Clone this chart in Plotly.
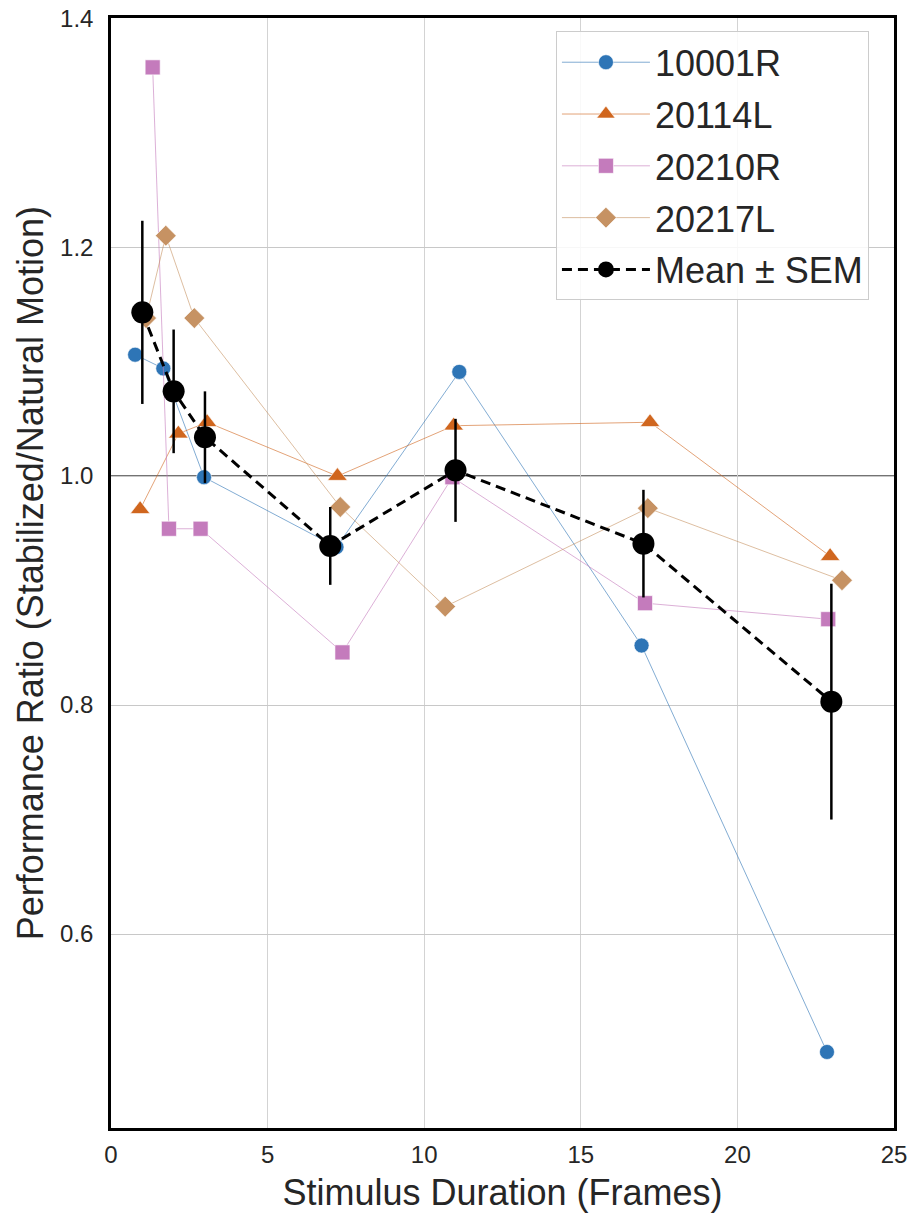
import plotly.graph_objects as go

# ---- data ----
mean_x = [1, 2, 3, 7, 11, 17, 23]
mean_y = [1.143, 1.074, 1.034, 0.939, 1.005, 0.941, 0.803]
mean_sem = [0.080, 0.054, 0.040, 0.034, 0.045, 0.047, 0.103]

s10001R_x = [0.77, 1.67, 2.97, 7.20, 11.12, 16.94, 22.86]
s10001R_y = [1.106, 1.094, 0.999, 0.938, 1.091, 0.852, 0.497]

s20114L_x = [0.93, 2.15, 3.07, 7.23, 10.94, 17.21, 22.96]
s20114L_y = [0.971, 1.037, 1.047, 1.000, 1.044, 1.047, 0.930]

s20210R_x = [1.33, 1.85, 2.86, 7.39, 10.90, 17.05, 22.90]
s20210R_y = [1.357, 0.954, 0.954, 0.846, 0.999, 0.889, 0.875]

s20217L_x = [1.12, 1.75, 2.66, 7.32, 10.67, 17.14, 23.34]
s20217L_y = [1.138, 1.210, 1.138, 0.973, 0.886, 0.972, 0.909]

names = ["10001R", "20114L", "20210R", "20217L"]
x_ticks = [0, 5, 10, 15, 20, 25]
y_ticks = [0.6, 0.8, 1.0, 1.2, 1.4]

FONT = "Arial, Liberation Sans, sans-serif"

series = [
    (names[0], s10001R_x, s10001R_y, "circle", 15, "#2E75B6", "rgba(46,117,182,0.6)"),
    (names[1], s20114L_x, s20114L_y, "triangle-up", 17, "#D0661E", "rgba(208,102,30,0.6)"),
    (names[2], s20210R_x, s20210R_y, "square", 15, "#C47BBC", "rgba(196,123,188,0.6)"),
    (names[3], s20217L_x, s20217L_y, "diamond", 16, "#C69263", "rgba(198,146,99,0.6)"),
]

fig = go.Figure()
for name, xs, ys, sym, size, col, lcol in series:
    fig.add_trace(go.Scatter(
        x=xs, y=ys, name=name, mode="lines+markers", legendgroup=name,
        line=dict(color=lcol, width=1),
        marker=dict(symbol=sym, size=size, color=col,
                    line=dict(color="white", width=0.6)),
    ))

fig.add_trace(go.Scatter(
    x=mean_x, y=mean_y, name="Mean ± SEM", mode="lines+markers", legendgroup="mean",
    line=dict(color="black", width=3, dash="10px,6px"),
    marker=dict(symbol="circle", size=22, color="black"),
    error_y=dict(type="data", array=mean_sem, visible=True,
                 color="black", thickness=2.5, width=0),
))

fig.add_shape(type="line", xref="paper", yref="y", x0=0, x1=1, y0=1.0, y1=1.0,
              line=dict(color="#444444", width=1.5), layer="between")

fig.add_annotation(
    text="Performance Ratio (Stabilized/Natural Motion)",
    xref="paper", yref="paper", x=-0.103, y=0.5,
    textangle=-90, showarrow=False,
    font=dict(family=FONT, size=36, color="#262626"),
    xanchor="center", yanchor="middle",
)

fig.update_layout(
    width=912, height=1215,
    margin=dict(l=111, r=18, t=18, b=87, autoexpand=False),
    paper_bgcolor="white", plot_bgcolor="white",
    font=dict(family=FONT, color="#262626"),
    showlegend=True,
    legend=dict(
        x=0.968, y=0.988, xanchor="right", yanchor="top",
        bgcolor="rgba(255,255,255,0.85)", bordercolor="#cccccc", borderwidth=1,
        font=dict(family=FONT, size=36, color="#262626"),
        itemwidth=88, tracegroupgap=2,
    ),
)

fig.update_xaxes(
    range=[0, 25], tickvals=x_ticks, ticktext=[str(v) for v in x_ticks],
    showgrid=True, gridcolor="#d3d3d3", gridwidth=1,
    showline=True, mirror=True, linecolor="black", linewidth=2.5,
    zeroline=False, ticks="", ticklabelstandoff=3, automargin=False,
    ticklabeloverflow="allow",
    tickfont=dict(family=FONT, size=24, color="#262626"),
    title=dict(text="Stimulus Duration (Frames)", standoff=14,
               font=dict(family=FONT, size=36, color="#262626")),
)
fig.update_yaxes(
    range=[0.4306, 1.4001], tickvals=y_ticks, ticktext=[f"{v:.1f}" for v in y_ticks],
    showgrid=True, gridcolor="#c8c8c8", gridwidth=1,
    showline=True, mirror=True, linecolor="black", linewidth=2.5,
    zeroline=False, ticks="", ticklabelstandoff=10, automargin=False,
    ticklabeloverflow="allow",
    tickfont=dict(family=FONT, size=24, color="#262626"),
)

# remove the default 8px page margin so the figure fills the window exactly
fig.write_html("out.html", config={"displayModeBar": False},
               post_script="document.body.style.margin='0';")
